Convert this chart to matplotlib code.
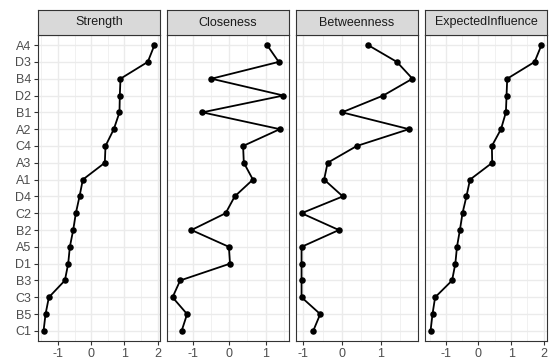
import matplotlib
matplotlib.use("Agg")
import matplotlib.pyplot as plt
import numpy as np

nodes = ["A4", "D3", "B4", "D2", "B1", "A2", "C4", "A3", "A1", "D4",
         "C2", "B2", "A5", "D1", "B3", "C3", "B5", "C1"]
measures = ["Strength", "Closeness", "Betweenness", "ExpectedInfluence"]
strength = [1.90, 1.70, 0.88, 0.86, 0.85, 0.68, 0.43, 0.41, -0.25, -0.35,
            -0.46, -0.54, -0.64, -0.69, -0.79, -1.27, -1.37, -1.43]
closeness = [1.04, 1.36, -0.49, 1.49, -0.74, 1.39, 0.38, 0.40, 0.65, 0.15,
             -0.10, -1.04, -0.01, 0.02, -1.35, -1.56, -1.16, -1.31]
betweenness = [0.67, 1.41, 1.81, 1.06, 0.00, 1.72, 0.38, -0.37, -0.46, 0.02,
               -1.04, -0.08, -1.04, -1.04, -1.04, -1.04, -0.56, -0.74]
expected_influence = [1.93, 1.72, 0.88, 0.86, 0.84, 0.69, 0.41, 0.42, -0.26, -0.37,
                      -0.49, -0.57, -0.66, -0.71, -0.81, -1.33, -1.41, -1.47]
xticks = [[-1, 0, 1, 2], [-1, 0, 1], [-1, 0, 1], [-1, 0, 1, 2]]

series = [strength, closeness, betweenness, expected_influence]

plt.rcParams['font.family'] = ['Liberation Sans', 'DejaVu Sans']
W, H = 550, 361
fig = plt.figure(figsize=(W / 100, H / 100), dpi=100)

left0, pw, gap = 38, 122, 7
ptop, pbot = 35, 341
stop = 10
n = len(nodes)
ypos = np.arange(n, 0, -1)

for i, (name, vals) in enumerate(zip(measures, series)):
    x0 = left0 + i * (pw + gap)
    ax = fig.add_axes([x0 / W, (H - pbot) / H, pw / W, (pbot - ptop) / H])
    vals = np.array(vals)
    lo, hi = vals.min(), vals.max()
    pad = 0.05 * (hi - lo)
    ax.set_xlim(lo - pad, hi + pad)
    ax.set_ylim(0.4, n + 0.6)
    ax.plot(vals, ypos, color="black", lw=1.3, zorder=3)
    ax.scatter(vals, ypos, s=22, color="black", zorder=4, linewidths=0)
    ax.set_xticks(xticks[i])
    ax.set_xticklabels([str(t) for t in xticks[i]])
    minors = [t + 0.5 for t in range(-3, 3) if lo - pad < t + 0.5 < hi + pad]
    ax.set_xticks(minors, minor=True)
    ax.grid(True, which="major", color="#EBEBEB", lw=1.0, zorder=0)
    ax.grid(True, which="minor", axis="x", color="#EBEBEB", lw=0.5, zorder=0)
    ax.set_yticks(ypos)
    ax.set_axisbelow(True)
    ax.tick_params(axis="x", which="major", length=3, width=0.8, color="#333333",
                   labelsize=9, labelcolor="#4D4D4D", pad=2)
    ax.tick_params(axis="x", which="minor", length=0)
    if i == 0:
        ax.set_yticklabels(nodes)
        ax.tick_params(axis="y", length=3, width=0.8, color="#333333",
                       labelsize=9, labelcolor="#4D4D4D", pad=2)
    else:
        ax.set_yticklabels([])
        ax.tick_params(axis="y", length=0)
    for sp in ax.spines.values():
        sp.set_color("#333333")
        sp.set_linewidth(0.8)
    # strip
    sax = fig.add_axes([x0 / W, (H - ptop) / H, pw / W, (ptop - stop) / H])
    sax.set_facecolor("#D9D9D9")
    sax.set_xticks([]); sax.set_yticks([])
    for sp in sax.spines.values():
        sp.set_color("#333333")
        sp.set_linewidth(0.8)
    sax.text(0.5, 0.5, name, ha="center", va="center", fontsize=9,
             color="#1A1A1A", transform=sax.transAxes)

fig.savefig("out.png", dpi=100, facecolor="white")
